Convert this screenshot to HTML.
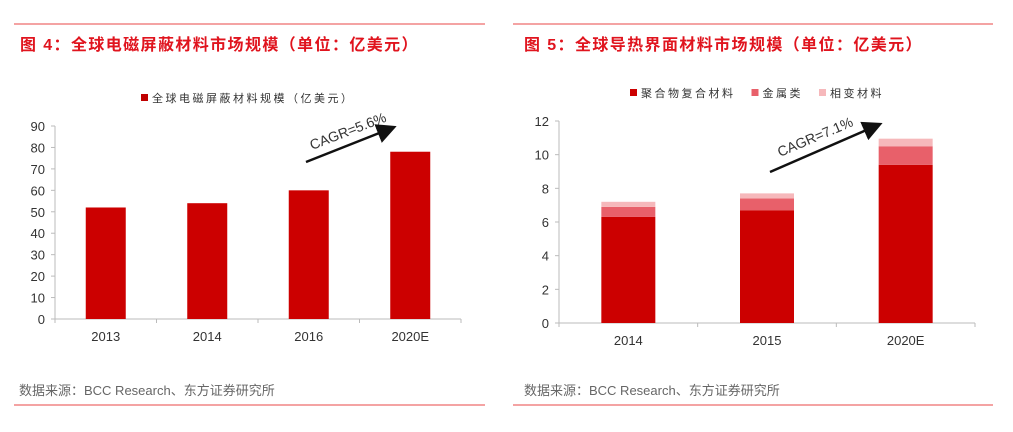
<!DOCTYPE html>
<html><head><meta charset="utf-8"><style>
body{margin:0;background:#fff;width:1013px;height:427px;overflow:hidden;font-family:"Liberation Sans","Noto Sans CJK SC",sans-serif}
</style></head><body>
<svg width="1013" height="427" xmlns="http://www.w3.org/2000/svg" font-family="Liberation Sans, Noto Sans CJK SC, sans-serif">
<defs><marker id="ah" markerWidth="8" markerHeight="8" refX="6" refY="4" orient="auto"><path d="M0,0 L8,4 L0,8 z" fill="#111"/></marker></defs>
<g id="static">
<line x1="14" y1="24" x2="485" y2="24" stroke="#f4a3a3" stroke-width="2"/>
<line x1="513" y1="24" x2="993" y2="24" stroke="#f4a3a3" stroke-width="2"/>
<text x="20" y="50" font-size="16" font-weight="bold" fill="#e0141e" letter-spacing="1.4">图 4：全球电磁屏蔽材料市场规模（单位：亿美元）</text>
<text x="524" y="50" font-size="16" font-weight="bold" fill="#e0141e" letter-spacing="1.4">图 5：全球导热界面材料市场规模（单位：亿美元）</text>
<rect x="141" y="94" width="7" height="7" fill="#c00000"/>
<text x="152" y="102" font-size="11" fill="#333" letter-spacing="2.5">全球电磁屏蔽材料规模（亿美元）</text>
<line x1="14" y1="405" x2="485" y2="405" stroke="#f4a3a3" stroke-width="2"/>
<line x1="513" y1="405" x2="993" y2="405" stroke="#f4a3a3" stroke-width="2"/>
<text x="19" y="395" font-size="13" fill="#666">数据来源：BCC Research、东方证券研究所</text>
<text x="524" y="395" font-size="13" fill="#666">数据来源：BCC Research、东方证券研究所</text>
<line x1="306" y1="162" x2="392" y2="128" stroke="#111" stroke-width="2.5" marker-end="url(#ah)"/>
<text x="0" y="0" font-size="14" fill="#333" transform="translate(312,150) rotate(-21)">CAGR=5.6%</text>
<line x1="770" y1="172" x2="878" y2="125" stroke="#111" stroke-width="2.5" marker-end="url(#ah)"/>
<text x="0" y="0" font-size="14" fill="#333" transform="translate(780,157) rotate(-23)">CAGR=7.1%</text>
</g>
<g id="c1"></g><g id="c2"></g>
</svg>
<script>
const cats1=["2013","2014","2016","2020E"];
const vals1=[52,54,60,78];
const ticks1=[0,10,20,30,40,50,60,70,80,90];
const cats2=["2014","2015","2020E"];
const polymer=[6.3,6.7,9.4];
const metal=[0.6,0.7,1.1];
const phase=[0.3,0.3,0.45];
const ticks2=[0,2,4,6,8,10,12];
const seriesNames=["聚合物复合材料","金属类","相变材料"];
const NS="http://www.w3.org/2000/svg";
function mk(p,t,a){const e=document.createElementNS(NS,t);for(const k in a)e.setAttribute(k,a[k]);p.appendChild(e);return e;}
(function(){
const g=document.getElementById('c1');
const x0=55,x1=461,y0=319,yT=126,max=90;
const y=v=>y0-(v/max)*(y0-yT);
const bw=(x1-x0)/cats1.length;
const ax=mk(g,'line',{x1:x0,y1:yT,x2:x0,y2:y0,stroke:'#bbb'});


const bx=mk(g,'line',{x1:x0,y1:y0,x2:x1,y2:y0,stroke:'#bbb'});


ticks1.forEach(t=>{mk(g,'line',{x1:x0-4,y1:y(t),x2:x0,y2:y(t),stroke:'#bbb'});
const tx=mk(g,'text',{x:x0-10,y:y(t)+5,'font-size':13,fill:'#333','text-anchor':'end'});tx.textContent=t;

});
for(let i=0;i<=cats1.length;i++)mk(g,'line',{x1:x0+i*bw,y1:y0,x2:x0+i*bw,y2:y0+4,stroke:'#bbb'});
cats1.forEach((c,i)=>{const cx=x0+bw*(i+0.5);
const r=mk(g,'rect',{x:cx-20,y:y(vals1[i]),width:40,height:y0-y(vals1[i]),fill:'#cc0000'});


const t=mk(g,'text',{x:cx,y:y0+22,'font-size':13,fill:'#333','text-anchor':'middle'});t.textContent=c;

});
})();
(function(){
const g=document.getElementById('c2');
const x0=559,x1=975,y0=323,yT=121,max=12;
const y=v=>y0-(v/max)*(y0-yT);
const bw=(x1-x0)/cats2.length;
const cols=['#cc0000','#e8606a','#f6b8bb'];
const ax=mk(g,'line',{x1:x0,y1:yT,x2:x0,y2:y0,stroke:'#bbb'});


const bx=mk(g,'line',{x1:x0,y1:y0,x2:x1,y2:y0,stroke:'#bbb'});


ticks2.forEach(t=>{mk(g,'line',{x1:x0-4,y1:y(t),x2:x0,y2:y(t),stroke:'#bbb'});
const tx=mk(g,'text',{x:x0-10,y:y(t)+5,'font-size':13,fill:'#333','text-anchor':'end'});tx.textContent=t;

});
for(let i=0;i<=cats2.length;i++)mk(g,'line',{x1:x0+i*bw,y1:y0,x2:x0+i*bw,y2:y0+4,stroke:'#bbb'});
const series=[polymer,metal,phase];
cats2.forEach((c,i)=>{const cx=x0+bw*(i+0.5);let acc=0;
series.forEach((s,k)=>{const r=mk(g,'rect',{x:cx-27,y:y(acc+s[i]),width:54,height:y(acc)-y(acc+s[i]),fill:cols[k]});acc+=s[i];

});
const t=mk(g,'text',{x:cx,y:y0+22,'font-size':13,fill:'#333','text-anchor':'middle'});t.textContent=c;

});
let lx=630;
seriesNames.forEach((n,k)=>{mk(g,'rect',{x:lx,y:89,width:7,height:7,fill:cols[k]});
const t=mk(g,'text',{x:lx+11,y:97,'font-size':11,fill:'#333','letter-spacing':2.5});t.textContent=n;


lx+=11+n.length*13.5+16;});
})();
</script>
</body></html>
